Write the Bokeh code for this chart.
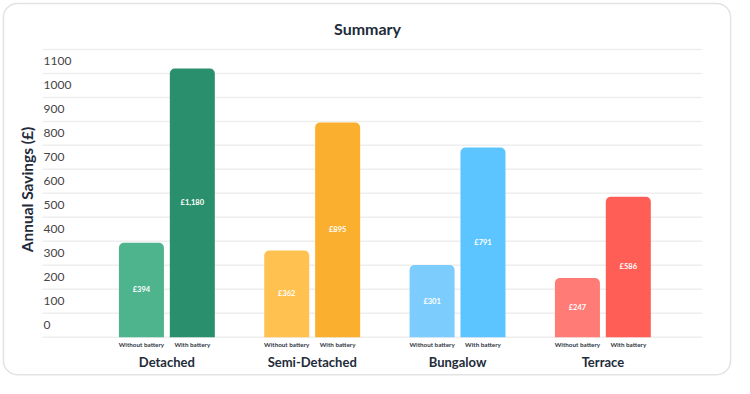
from math import pi
from bokeh.plotting import figure
from bokeh.models import Range1d, ColumnDataSource
from bokeh.core.properties import value
from bokeh.embed import file_html
from bokeh.resources import INLINE

# ---------------- data ----------------
categories = ["Detached", "Semi-Detached", "Bungalow", "Terrace"]
subgroups = ["Without battery", "With battery"]
without_battery = [394, 362, 301, 247]
with_battery = [1120, 895, 791, 586]          # bar heights as drawn in the picture
without_labels = ["£394", "£362", "£301", "£247"]
with_labels = ["£1,180", "£895", "£791", "£586"]
colors_without = ["#4DB48E", "#FFC150", "#7CCDFD", "#FF7B75"]
colors_with = ["#2A8F6C", "#FBAF2E", "#5CC4FF", "#FF5E57"]
tick_labels = ["0", "100", "200", "300", "400", "500", "600", "700", "800", "900", "1000", "1100"]
grid_values = [0, 100, 200, 300, 400, 500, 600, 700, 800, 900, 1000, 1100, 1200]
title = "Summary"
y_title = "Annual Savings (£)"

FONT = "Lato"
DARK = "#222B3A"

W, H = 734, 378
SX, SY = W / 750, H / 394        # reference-layout px -> figure px


def fx(s):  # layout x (reference px) -> figure px
    return s * SX


def fy(s):  # layout y (reference px, from top) -> figure px from bottom
    return H - s * SY


# data scales: group index on x, value on y
GX0, GPX = fx(170), 148.5 * SX         # px of group 0 centre, px per group
Y0PX, YPX = fy(351), 0.25 * SY         # px of value 0 from bottom, px per unit

p = figure(width=W, height=H, output_backend="svg", toolbar_location=None,
           x_axis_type=None, y_axis_type=None, min_border=0,
           x_range=Range1d(-GX0 / GPX, (W - GX0) / GPX),
           y_range=Range1d(-Y0PX / YPX, (H - Y0PX) / YPX))
p.outline_line_color = None
p.background_fill_color = "white"
p.border_fill_color = "white"
p.extra_x_ranges = {"px": Range1d(0, W)}
p.extra_y_ranges = {"px": Range1d(0, H)}

# card
p.quad(left=[fx(3)], right=[fx(746)], bottom=[fy(390)], top=[fy(3)],
       x_range_name="px", y_range_name="px", fill_color="white",
       line_color="#E3E3E3", line_width=1.5, border_radius=14)

# gridlines
p.segment(x0=[fx(43)] * len(grid_values), x1=[fx(717)] * len(grid_values),
          y0=grid_values, y1=grid_values, x_range_name="px",
          line_color="#EEEEEE", line_width=1.5)

# y tick labels (centred in the bands)
tick_vals = [int(t) + 50 for t in tick_labels]
p.text(x=[fx(44)] * len(tick_labels), y=tick_vals, text=tick_labels,
       x_range_name="px", text_font=value(FONT), text_font_size="12px",
       text_color="#454545", text_align="left", text_baseline="middle")

# bars
n = len(categories)
off = 26 / 148.5
bw = 46 / 148.5
xs_wo = [i - off for i in range(n)]
xs_w = [i + off for i in range(n)]
src_wo = ColumnDataSource(dict(x=xs_wo, top=without_battery, c=colors_without,
                               lab=without_labels, mid=[v / 2 for v in without_battery],
                               sub=[subgroups[0]] * n))
src_w = ColumnDataSource(dict(x=xs_w, top=with_battery, c=colors_with,
                              lab=with_labels, mid=[v / 2 for v in with_battery],
                              sub=[subgroups[1]] * n))
for src in (src_wo, src_w):
    p.vbar(x="x", top="top", bottom=0, width=bw, fill_color="c", line_color=None,
           border_radius=[5, 5, 0, 0], source=src)
    p.text(x="x", y="mid", text="lab", source=src, text_font=value(FONT),
           text_font_size="7.5px", text_font_style="bold", text_color="white",
           text_align="center", text_baseline="middle")
    p.text(x="x", y=-8 * 4, text="sub", source=src, text_font=value(FONT),
           text_font_size="6.3px", text_font_style="bold", text_color="#2F3744",
           text_align="center", text_baseline="middle")

# category labels
p.text(x=list(range(n)), y=[-26 * 4] * n, text=categories, text_font=value(FONT),
       text_font_size="13px", text_font_style="bold", text_color=DARK,
       text_align="center", text_baseline="middle")

# title
p.text(x=[fx(375)], y=[fy(29)], text=[title], x_range_name="px", y_range_name="px",
       text_font=value(FONT), text_font_size="16px", text_font_style="bold",
       text_color=DARK, text_align="center", text_baseline="middle")

# y axis title
p.text(x=[fx(27)], y=[fy(197)], text=[y_title], x_range_name="px", y_range_name="px",
       angle=pi / 2, text_font=value(FONT), text_font_size="15.5px", text_font_style="bold",
       text_color=DARK, text_align="center", text_baseline="middle")

open("out.html", "w").write(file_html(p, INLINE))
